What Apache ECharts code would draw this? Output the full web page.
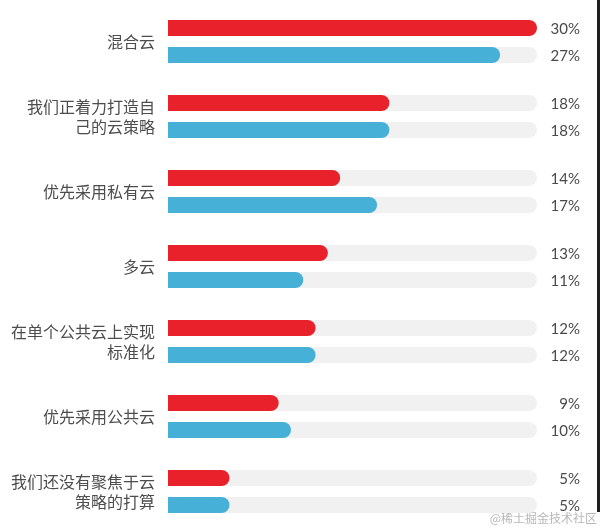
<!DOCTYPE html>
<html>
<head>
<meta charset="utf-8">
<script src="https://cdn.jsdelivr.net/npm/echarts@6/dist/echarts.min.js"></script>
<style>
html,body{margin:0;padding:0;background:#fff;}
#chart{width:600px;height:532px;}
</style>
</head>
<body>
<div id="chart"></div>
<script>
// 分类
var categories = [
    '混合云',
    '我们正着力打造自\n己的云策略',
    '优先采用私有云',
    '多云',
    '在单个公共云上实现\n标准化',
    '优先采用公共云',
    '我们还没有聚焦于云\n策略的打算'
];
// 红色 / 蓝色 两组数据 (%)
var redValues  = [30, 18, 14, 13, 12, 9, 5];
var blueValues = [27, 18, 17, 11, 12, 10, 5];

var chart = echarts.init(document.getElementById('chart'));

function barSeries (name, data, color){
    return {
        name: name,
        type: 'bar',
        data: data,
        barWidth: 16,
        barGap: '69%',
        itemStyle: {color: color, borderRadius: [0, 8, 8, 0]},
        showBackground: true,
        backgroundStyle: {color: '#f1f1f1', borderRadius: [0, 8, 8, 0]},
        label: {
            show: true,
            position: 'right',
            formatter: '{c}%',
            color: '#4a4a4a',
            fontSize: 15,
            fontFamily: 'Lato'
        },
        labelLayout: function(){
            return {x: chart.getWidth() - 20, align: 'right', dy: -6};   // 右侧对齐
        }
    };
}

chart.setOption({
    backgroundColor: '#fff',
    animation: false,
    grid: {left: 168, right: 63, top: 4, bottom: 3},
    xAxis: {
        type: 'value',
        min: 0,
        max: 30,
        show: false
    },
    yAxis: {
        type: 'category',
        data: categories,
        inverse: true,
        axisLine: {show: false},
        axisTick: {show: false},
        axisLabel: {
            margin: 13,
            color: '#4d4d4d',
            fontSize: 16,
            lineHeight: 20,
            fontFamily: 'Noto Sans CJK SC'
        }
    },
    series: [
        barSeries('red', redValues, '#e8212b'),
        barSeries('blue', blueValues, '#47b0d7')
    ],
    graphic: [
        {   // 右边框
            type: 'rect',
            shape: {x: 597, y: 0, width: 3, height: 512},
            style: {fill: '#1e1e1e'}
        },
        {   // 水印
            type: 'text',
            right: 3,
            top: 512,
            style: {
                text: '@稀土掘金技术社区',
                fill: '#b8b8b8',
                fontSize: 12,
                fontFamily: 'Noto Sans CJK SC'
            }
        }
    ]
});
</script>
</body>
</html>
